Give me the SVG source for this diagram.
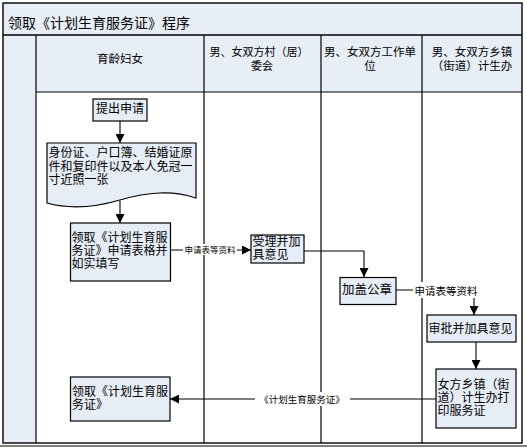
<svg xmlns="http://www.w3.org/2000/svg" width="527" height="448" viewBox="0 0 527 448">
<defs>
<style>
.t{font-family:"Noto Sans CJK SC","Noto Sans",sans-serif;fill:#000}
.frame{fill:none;stroke:#000;stroke-width:1.4}
.lane{stroke:#000;stroke-width:1.2}
.box{fill:#E6EDF7;stroke:#000;stroke-width:1.2}
.conn{fill:none;stroke:#000;stroke-width:1.1}
.lbl{fill:#fff}
</style>
<marker id="ah" viewBox="0 0 10 10" refX="10" refY="5" markerWidth="9" markerHeight="9" markerUnits="userSpaceOnUse" orient="auto">
<path d="M0,0 L10,5 L0,10 Z" fill="#000"/>
</marker>
</defs>
<rect width="527" height="448" fill="#fff"/>
<g id="frame">
<rect x="3" y="3" width="519" height="89" fill="#E8EEF8"/>
<rect x="3" y="92" width="33" height="351" fill="#E8EEF8"/>
<rect x="3" y="3" width="519" height="440" class="frame"/>
<line x1="3" y1="35" x2="522" y2="35" class="frame"/>
<line x1="36" y1="92" x2="522" y2="92" class="lane"/>
<line x1="36" y1="35" x2="36" y2="443" class="lane"/>
<line x1="204" y1="35" x2="204" y2="443" class="lane"/>
<line x1="321" y1="35" x2="321" y2="443" class="lane"/>
<line x1="422" y1="35" x2="422" y2="443" class="lane"/>
<line x1="0" y1="446" x2="527" y2="446" stroke="#000" stroke-width="1"/>
<text class="t" x="8" y="28" font-size="14">领取《计划生育服务证》程序</text>
<text class="t" x="120" y="62.5" font-size="11.5" text-anchor="middle">育龄妇女</text>
<text class="t" x="259" y="56" font-size="11" text-anchor="middle">男、女双方村（居）</text>
<text class="t" x="262" y="70" font-size="11" text-anchor="middle">委会</text>
<text class="t" x="370" y="56" font-size="11.5" text-anchor="middle">男、女双方工作单</text>
<text class="t" x="370" y="70" font-size="11.5" text-anchor="middle">位</text>
<text class="t" x="472" y="56" font-size="11.5" text-anchor="middle">男、女双方乡镇</text>
<text class="t" x="472" y="70" font-size="11.5" text-anchor="middle">（街道）计生办</text>
</g>
<g id="connectors">
<line x1="120" y1="121" x2="120" y2="143" class="conn" marker-end="url(#ah)"/>
<line x1="120" y1="201" x2="120" y2="223" class="conn" marker-end="url(#ah)"/>
<line x1="170" y1="250" x2="251" y2="250" class="conn" marker-end="url(#ah)"/>
<rect x="183" y="244" width="54" height="11" class="lbl"/>
<text class="t" x="210" y="253" font-size="8.5" text-anchor="middle">申请表等资料</text>
<polyline points="304,251 364,251 364,277" class="conn" marker-end="url(#ah)"/>
<polyline points="396,290 474,290 474,315" class="conn" marker-end="url(#ah)"/>
<rect x="413" y="282" width="65" height="16" class="lbl"/>
<text class="t" x="446" y="294.5" font-size="10.5" text-anchor="middle">申请表等资料</text>
<line x1="476" y1="342" x2="476" y2="369" class="conn" marker-end="url(#ah)"/>
<line x1="436" y1="399" x2="170" y2="399" class="conn" marker-end="url(#ah)"/>
<rect x="255" y="392" width="95" height="14" class="lbl"/>
<text class="t" x="302" y="402.5" font-size="9.5" text-anchor="middle">《计划生育服务证》</text>
</g>
<g id="n1">
<rect x="93" y="99" width="54" height="22" class="box"/>
<text class="t" x="120" y="113" font-size="12" text-anchor="middle">提出申请</text>
</g>
<g id="n2">
<path d="M47,143 H196 V198 C172,190 148,192 120,200 C96,207 72,210 47,203 Z" class="box"/>
<text class="t" font-size="12"><tspan x="48.5" y="157">身份证、户口簿、结婚证原</tspan><tspan x="48.5" y="170.5">件和复印件以及本人免冠一</tspan><tspan x="48.5" y="184">寸近照一张</tspan></text>
</g>
<g id="n3">
<rect x="70.5" y="223" width="100" height="58" class="box"/>
<text class="t" font-size="12"><tspan x="71.5" y="241.5">领取《计划生育服</tspan><tspan x="71.5" y="254.5">务证》申请表格并</tspan><tspan x="71.5" y="267.5">如实填写</tspan></text>
</g>
<g id="n4">
<rect x="251" y="235" width="53" height="28" class="box"/>
<text class="t" font-size="12"><tspan x="252.5" y="246">受理并加</tspan><tspan x="252.5" y="259">具意见</tspan></text>
</g>
<g id="n5">
<rect x="340" y="277.5" width="56" height="27" class="box"/>
<text class="t" x="342" y="294" font-size="12.5">加盖公章</text>
</g>
<g id="n6">
<rect x="427" y="315" width="89" height="27" class="box"/>
<text class="t" x="428.5" y="333" font-size="12">审批并加具意见</text>
</g>
<g id="n7">
<rect x="436" y="369" width="80" height="59" class="box"/>
<text class="t" font-size="12"><tspan x="437.5" y="389">女方乡镇（街</tspan><tspan x="437.5" y="402">道）计生办打</tspan><tspan x="437.5" y="415">印服务证</tspan></text>
</g>
<g id="n8">
<rect x="70.5" y="377" width="99.5" height="44" class="box"/>
<text class="t" font-size="12"><tspan x="72" y="396">领取《计划生育服</tspan><tspan x="72" y="409">务证》</tspan></text>
</g>
</svg>
